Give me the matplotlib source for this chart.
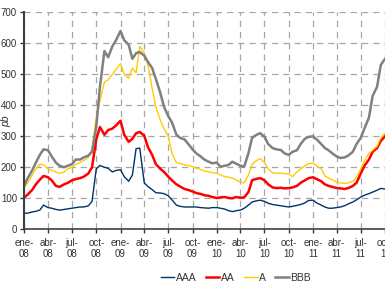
import matplotlib

matplotlib.use("Agg")
import matplotlib.pyplot as plt
import matplotlib.dates as mdates
import pandas as pd

plt.rcParams["font.family"] = ["Liberation Sans", "DejaVu Sans"]

# fechas: día 1 y 15 de cada mes, ene-08 a oct-11
fechas = pd.date_range("2008-01-01", "2011-10-01", freq="SMS")

aaa = [52, 52, 56, 58, 62, 78, 70, 68, 64, 62,
       64, 66, 68, 70, 72, 72, 76, 90, 195, 206,
       200, 197, 185, 190, 192, 170, 155, 175, 260, 262,
       150, 138, 128, 118, 117, 115, 108, 95, 78, 74,
       72, 72, 72, 72, 70, 69, 68, 70, 70, 68,
       65, 60, 57, 60, 62, 68, 78, 88, 92, 94,
       90, 84, 80, 78, 76, 74, 72, 74, 77, 80,
       85, 93, 94, 85, 78, 72, 68, 68, 70, 72,
       76, 82, 88, 95, 104, 110, 115, 120, 126, 132,
       130]
aa = [102, 112, 127, 145, 160, 172, 168, 158, 140, 137,
      145, 150, 158, 162, 165, 170, 180, 200, 290, 330,
      305, 320, 325, 335, 350, 305, 282, 292, 310, 314,
      302, 265, 240, 210, 195, 185, 170, 158, 145, 138,
      130, 127, 122, 117, 114, 110, 108, 104, 101, 103,
      104, 101, 100, 104, 102, 103, 120, 158, 163, 165,
      158, 145, 135, 133, 134, 132, 133, 135, 140, 150,
      158, 165, 168, 162, 155, 145, 140, 137, 133, 132,
      130, 133, 140, 150, 180, 205, 225, 250, 262, 285,
      300]
a = [135, 150, 175, 195, 210, 208, 195, 190, 185, 180,
     185, 195, 200, 210, 215, 222, 232, 260, 360, 415,
     475, 482, 500, 515, 535, 500, 487, 520, 505, 590,
     570, 530, 455, 395, 352, 325, 300, 245, 215, 212,
     208, 206, 202, 197, 193, 188, 185, 183, 181, 175,
     170, 168, 165, 160, 152, 150, 175, 210, 222, 228,
     215, 195, 182, 181, 181, 180, 178, 170, 185, 195,
     205, 212, 213, 205, 195, 172, 165, 160, 152, 150,
     148, 150, 155, 168, 195, 220, 245, 255, 268, 295,
     310]
bbb = [140, 165, 190, 215, 240, 258, 255, 235, 215, 205,
       200, 205, 210, 225, 225, 232, 238, 250, 330, 460,
       575, 555, 590, 610, 640, 610, 595, 550, 568, 572,
       560, 540, 520, 485, 440, 395, 365, 345, 305, 295,
       290, 275, 258, 245, 235, 225, 218, 213, 215, 202,
       205, 208, 218, 212, 205, 202, 245, 295, 305, 310,
       298, 275, 262, 258, 256, 245, 240, 250, 255, 275,
       292, 298, 300, 290, 275, 262, 255, 245, 235, 230,
       232, 238, 250, 275, 295, 325, 360, 430, 460, 530,
       550]

meses = {1: "ene", 4: "abr", 7: "jul", 10: "oct"}

fig = plt.figure(figsize=(3.85, 2.88), dpi=100)
ax = fig.add_axes([24 / 385, 1 - 229.3 / 288, 1 - 24 / 385, 217 / 288])

l1, = ax.plot(fechas, aaa, color="#003366", lw=1.0, label="AAA")
l2, = ax.plot(fechas, aa, color="#ff0000", lw=1.8, label="AA")
l3, = ax.plot(fechas, a, color="#ffcc00", lw=1.0, label="A")
l4, = ax.plot(fechas, bbb, color="#808080", lw=1.8, label="BBB")

ax.set_xlim(pd.Timestamp("2008-01-01"), pd.Timestamp("2011-10-01"))
ax.set_ylim(0, 700)
ax.set_yticks(range(0, 701, 100))
ax.xaxis.set_major_locator(mdates.MonthLocator(bymonth=[1, 4, 7, 10]))
ax.xaxis.set_major_formatter(
    matplotlib.ticker.FuncFormatter(
        lambda v, p: "%s-\n%s" % (meses[mdates.num2date(v).month],
                                  mdates.num2date(v).strftime("%y"))))

ax.grid(True, color="#a6a6a6", linestyle=(0, (5, 4)), linewidth=0.9)
ax.set_axisbelow(True)
for s in ["top", "right"]:
    ax.spines[s].set_visible(False)
ax.spines["left"].set_color("#404040")
ax.spines["left"].set_linewidth(1.5)
ax.spines["bottom"].set_color("#404040")
ax.spines["bottom"].set_linewidth(1.2)
ax.tick_params(axis="both", labelsize=7, colors="#333333", length=3, width=1, pad=2)
ax.tick_params(axis="x", pad=3)

fig.text(6 / 385, 1 - 121 / 288, "pb", rotation=90, style="italic",
         fontsize=7.5, color="#333333", ha="center", va="center")

fig.legend([l1, l2, l3, l4], ["AAA", "AA", "A", "BBB"], loc="center",
           bbox_to_anchor=(236 / 385, 1 - 278 / 288), ncol=4, frameon=False,
           fontsize=7.5, handlelength=1.3, handletextpad=0.15,
           columnspacing=0.9, labelcolor="#333333")

fig.savefig("out.png", dpi=100)
plt.close(fig)
